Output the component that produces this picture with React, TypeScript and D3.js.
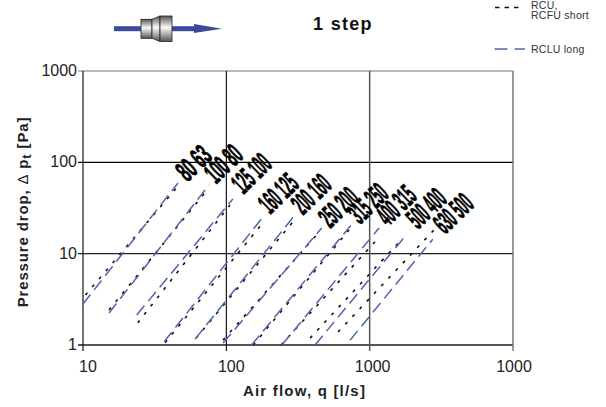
import React from "react";
import * as d3 from "d3";

const sizes = ["80 63","100 80","125 100","160 125","200 160","250 200","315 250","400 315","500 400","630 500"];
const longQ: [number,number][] = [[10,46],[15.2,75.7],[23.7,111],[36.9,180],[60.5,301],[94.8,463],[150,738],[244,1163],[416,1795],[730,2756]];
const longP: [number,number][] = [[2.81,59.5],[2.24,56.5],[2.13,39.7],[1.09,25.2],[1.16,26.5],[1.05,19.1],[1,20.3],[1,19.1],[1,16],[1.13,14.4]];
const shortQ: [number,number][] = [[10.4,46],[15.2,74.5],[24.1,106],[37.4,177],[61.5,292],[94.8,451],[154,718],[241,1090],[384,1710],[602,2813]];
const shortP: [number,number][] = [[3.53,55],[2.42,51],[1.75,34.1],[1.06,21.1],[1.19,22.4],[1.13,17.7],[1,18.2],[1,13.5],[1.19,14.9],[1.39,18.2]];
const labelQ = [53.6,84.7,131,202,343,530,857,1343,2176,3358];
const labelP = [60,57,44,26.5,26,18.6,20.6,19.6,18.2,16];
const xTicks = [10,100,1000,10000];
const xTickLabels = ["10","100","1000","1000"];
const xLabelOffset = [5,5,3,1];
const yTicks = [1,10,100,1000];
const yTickLabels = ["1","10","100","1000"];

const x = d3.scaleLog().domain([10,10000]).range([83,513]);
const y = d3.scaleLog().domain([1,1000]).range([345,71]);
const font = "'Liberation Sans', Arial, sans-serif";
const line = d3.line<[number,number]>().x(d=>x(d[0])).y(d=>y(d[1]));
const pts = (q:[number,number],p:[number,number]):[number,number][] => [[q[0],p[0]],[q[1],p[1]]];
const blue = "#5263b0";
const labelLength = (s:string)=> s.length===5 ? 36 : s.length===6 ? 40 : 42;

export default function App(){
  const gridStroke = (t:number)=> t===1 ? "#555" : t===1000 ? "#777" : t===10 ? "#222" : "#000";
  return (
    <svg width={606} height={407} style={{position:"absolute",left:0,top:0,background:"#fff"}} fontFamily={font}>
      <defs>
        <linearGradient id="m" x1="0" y1="0" x2="0" y2="1">
          <stop offset="0" stopColor="#555"/><stop offset="0.45" stopColor="#fafafa"/><stop offset="1" stopColor="#555"/>
        </linearGradient>
      </defs>
      {yTicks.map(t=><line key={t} x1={78} x2={513} y1={y(t)} y2={y(t)} stroke={gridStroke(t)} strokeWidth={t===1?2:1.1}/>)}
      {xTicks.map(t=><line key={t} x1={x(t)} x2={x(t)} y1={71} y2={351} stroke={t===10000?"#777":t===1000?"#555":"#000"} strokeWidth={t===10000||t===1000?1.5:1.1}/>)}
      {sizes.map((s,i)=>(
        <g key={s}>
          <path d={line(pts(shortQ[i],shortP[i]))!} fill="none" stroke="#111" strokeWidth={1.6} strokeDasharray="3 7.5"/>
          <path d={line(pts(longQ[i],longP[i]))!} fill="none" stroke={blue} strokeWidth={1.5} strokeDasharray="12 6"/>
          <text transform={`translate(${x(labelQ[i])},${y(labelP[i])}) rotate(-44)`} fontSize={29} fontWeight={700} fill="#000" stroke="#000" strokeWidth={0.8} textLength={labelLength(s)} lengthAdjust="spacingAndGlyphs">{s}</text>
        </g>
      ))}
      {xTicks.map((t,i)=><text key={t} x={x(t)+xLabelOffset[i]} y={372} textAnchor="middle" fontSize={16} fill="#222">{xTickLabels[i]}</text>)}
      {yTicks.map((t,i)=><text key={t} x={77} y={y(t)+5} textAnchor="end" fontSize={16} fill="#222">{yTickLabels[i]}</text>)}
      <text x={343} y={30} textAnchor="middle" fontSize={18} fontWeight={700} letterSpacing={1.3} fill="#111">1 step</text>
      <text x={304.5} y={396} textAnchor="middle" fontSize={15} fontWeight={700} letterSpacing={1.2} fill="#222">Air flow, q [l/s]</text>
      <text transform="translate(28,212) rotate(-90)" textAnchor="middle" fontSize={15} fontWeight={700} letterSpacing={0.85} fill="#222">Pressure drop, <tspan fontWeight={400}>Δ</tspan> p<tspan dy={3} fontSize={13}>t</tspan><tspan dy={-3}> [Pa]</tspan></text>
      <line x1={495} x2={521} y1={7.5} y2={7.5} stroke="#111" strokeWidth={1.4} strokeDasharray="4.5 5"/>
      <text x={531} y={9} fontSize={10.5} letterSpacing={0.25} fill="#333">RCU,</text>
      <text x={531} y={19} fontSize={10.5} letterSpacing={0.25} fill="#333">RCFU short</text>
      <line x1={494.5} x2={525} y1={49} y2={49} stroke={blue} strokeWidth={1.6} strokeDasharray="13 7"/>
      <text x={531} y={53} fontSize={10.5} letterSpacing={0.25} fill="#333">RCLU long</text>
      <rect x={114} y={26.2} width={82} height={5} fill="#3b4a9c"/>
      <path d="M194 24 L222 28.7 L194 33 Z" fill="#3b4a9c"/>
      <rect x={141} y={19.3} width={11} height={19} fill="url(#m)" stroke="#222" strokeWidth={0.8}/>
      <path d="M152 19.3 L160 16 L160 41.5 L152 38.3 Z" fill="url(#m)" stroke="#222" strokeWidth={0.8}/>
      <rect x={160} y={16} width={12} height={25.5} fill="url(#m)" stroke="#222" strokeWidth={0.8}/>
    </svg>
  );
}
